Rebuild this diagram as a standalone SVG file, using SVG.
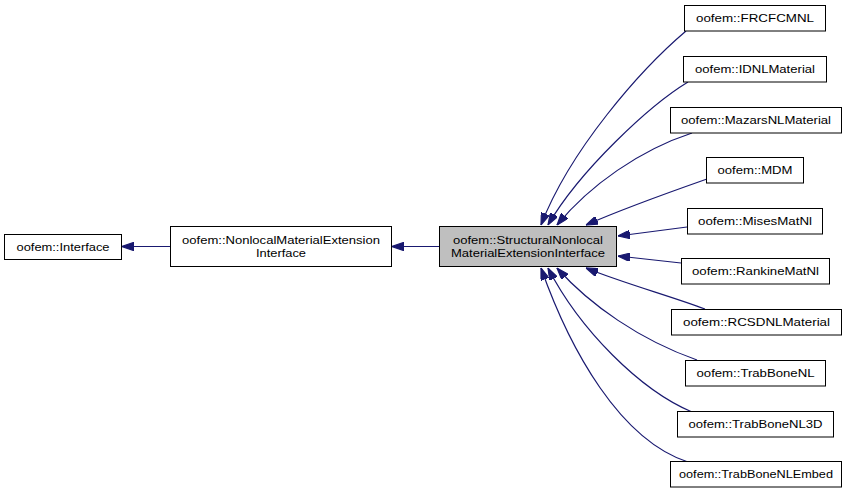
<svg xmlns="http://www.w3.org/2000/svg" width="851" height="493" viewBox="0 0 851 493">
<style>
.node rect{fill:#ffffff;stroke:#000000;stroke-width:1}
.node.cur rect{fill:#bfbfbf}
.node text{font-family:"Liberation Sans",Arial,Helvetica,sans-serif;font-size:11.5px;fill:#000000;text-anchor:middle}
.edges path{fill:none;stroke:#191970;stroke-width:1.2;marker-end:url(#arr)}
</style>
<defs>
<marker id="arr" viewBox="0 0 10 7" refX="10" refY="3.5" markerUnits="userSpaceOnUse" markerWidth="12" markerHeight="8.4" orient="auto">
<path d="M0,0 L10,3.5 L0,7 z" fill="#191970" stroke="#191970"/>
</marker>
</defs>
<rect width="851" height="493" fill="#ffffff"/>
<g class="edges" id="edges">
<path d="M170,246.5 L122,246.5"/>
<path d="M439,246.5 L392,246.5"/>
<path d="M686,31 C640,70 570,150 541,225"/>
<path d="M688,82 C650,105 580,170 548,225"/>
<path d="M692,133 C640,150 590,185 557,225"/>
<path d="M707,179 C670,192 620,210 586,225"/>
<path d="M687,227 L618,236"/>
<path d="M681,263 L618,256"/>
<path d="M705,309 C670,296 620,282 586,268"/>
<path d="M697,360 C640,340 590,305 557,268"/>
<path d="M692,412 C640,390 580,330 548,268"/>
<path d="M688,462 C620,440 570,350 541,268"/>
</g>
<g class="node" id="n_interface"><rect x="4.5" y="234.5" width="117" height="25"/><text x="63" y="251" textLength="93" lengthAdjust="spacingAndGlyphs">oofem::Interface</text></g>
<g class="node" id="n_nonlocal"><rect x="170.5" y="226.5" width="221" height="40"/><text x="281" y="243.5" textLength="198" lengthAdjust="spacingAndGlyphs">oofem::NonlocalMaterialExtension</text><text x="281" y="256.5" textLength="50" lengthAdjust="spacingAndGlyphs">Interface</text></g>
<g class="node cur" id="n_structural"><rect x="439.5" y="226.5" width="177" height="40"/><text x="528" y="243.5" textLength="150" lengthAdjust="spacingAndGlyphs">oofem::StructuralNonlocal</text><text x="528" y="256.5" textLength="154" lengthAdjust="spacingAndGlyphs">MaterialExtensionInterface</text></g>
<g class="node" id="n_frcfcmnl"><rect x="684.5" y="5.5" width="141" height="25.5"/><text x="755" y="22" textLength="118" lengthAdjust="spacingAndGlyphs">oofem::FRCFCMNL</text></g>
<g class="node" id="n_idnl"><rect x="683.5" y="56.5" width="143" height="25.5"/><text x="755" y="73" textLength="120" lengthAdjust="spacingAndGlyphs">oofem::IDNLMaterial</text></g>
<g class="node" id="n_mazars"><rect x="670.5" y="107.5" width="171" height="25.5"/><text x="756" y="124" textLength="150" lengthAdjust="spacingAndGlyphs">oofem::MazarsNLMaterial</text></g>
<g class="node" id="n_mdm"><rect x="706.5" y="157.5" width="97" height="25.5"/><text x="755" y="174" textLength="75" lengthAdjust="spacingAndGlyphs">oofem::MDM</text></g>
<g class="node" id="n_mises"><rect x="687.5" y="208.5" width="135" height="25.5"/><text x="755" y="225" textLength="114" lengthAdjust="spacingAndGlyphs">oofem::MisesMatNl</text></g>
<g class="node" id="n_rankine"><rect x="681.5" y="258.5" width="148" height="25.5"/><text x="755.5" y="275" textLength="127" lengthAdjust="spacingAndGlyphs">oofem::RankineMatNl</text></g>
<g class="node" id="n_rcsd"><rect x="671.5" y="309.5" width="170" height="25.5"/><text x="756.5" y="326" textLength="147" lengthAdjust="spacingAndGlyphs">oofem::RCSDNLMaterial</text></g>
<g class="node" id="n_trab"><rect x="685.5" y="360.5" width="140" height="25.5"/><text x="755.5" y="377" textLength="118" lengthAdjust="spacingAndGlyphs">oofem::TrabBoneNL</text></g>
<g class="node" id="n_trab3d"><rect x="677.5" y="411.5" width="156" height="25.5"/><text x="755.5" y="428" textLength="134" lengthAdjust="spacingAndGlyphs">oofem::TrabBoneNL3D</text></g>
<g class="node" id="n_trabembed"><rect x="670.5" y="461.5" width="171" height="25.5"/><text x="756" y="478" textLength="154" lengthAdjust="spacingAndGlyphs">oofem::TrabBoneNLEmbed</text></g>
</svg>
